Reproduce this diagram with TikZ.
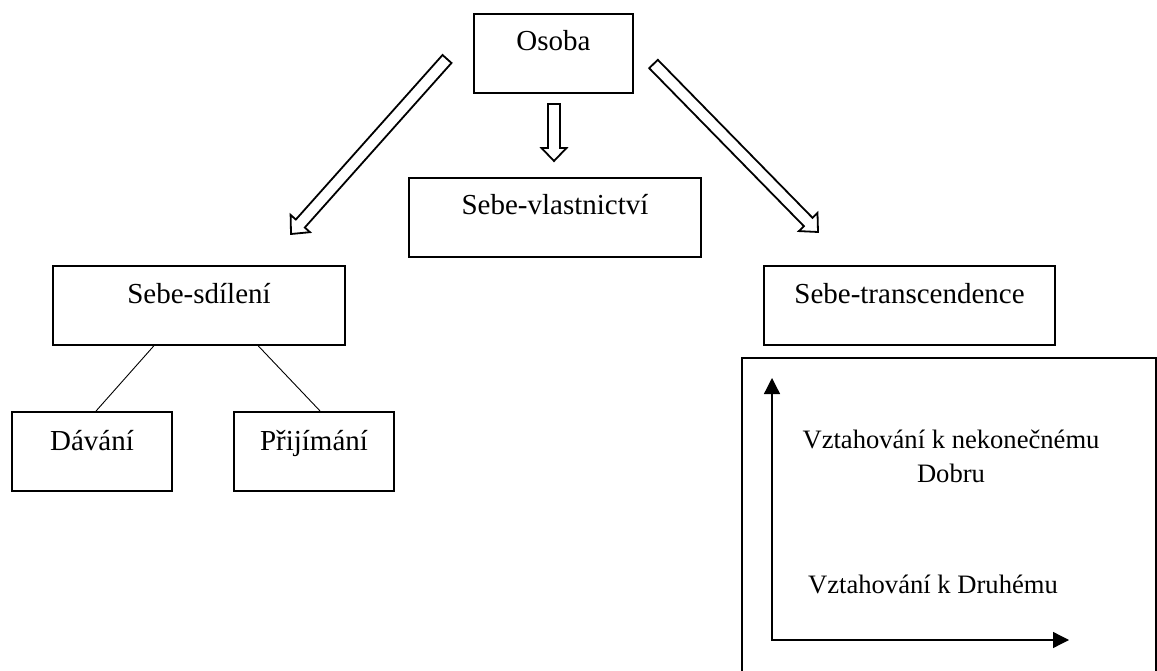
\documentclass[tikz,border=0pt]{standalone}
\usepackage{fontspec}
\setmainfont{Liberation Serif}
\usetikzlibrary{calc,arrows.meta}
\newcommand\bigfont{\fontsize{29pt}{34pt}\selectfont}
\newcommand\framefont{\fontsize{26.6pt}{34pt}\selectfont}
\begin{document}
\begin{tikzpicture}[x=1pt,y=-1pt,
  box/.style={draw, line width=2pt, inner sep=0pt, anchor=north west,
    text height=37pt, text depth=42pt, font=\bigfont},
  plain/.style={inner sep=0pt, font=\framefont, anchor=base},
  blockarr/.style={draw, line width=1.8pt, line join=miter, fill=white},
  thin/.style={line width=0.9pt},
  axis/.style={line width=1.3pt, {Triangle[length=16pt,width=16pt]}-{Triangle[length=16pt,width=16pt]}}
]
\useasboundingbox (0,0) rectangle (1157,671);

% boxes
\node[box, minimum width=159pt] (os) at (473,13) {Osoba};
\node[box, minimum width=292pt] (sv) at (408,177) {Sebe-vlastnictví};
\node[box, minimum width=292pt] (ss) at (52,265) {Sebe-sdílení};
\node[box, minimum width=291pt] (st) at (763,265) {Sebe-transcendence};
\node[box, minimum width=160pt, text height=38pt, text depth=41pt] (da) at (11,411) {Dávání};
\node[box, minimum width=160pt, text height=38pt, text depth=41pt] (pr) at (233,411) {Přijímání};

% big frame (cut by page edge)
\draw[line width=2pt] (742,700) -- (742,358) -- (1156,358) -- (1156,700);

% thin connectors
\draw[thin] ($(ss.south west)!0.346!(ss.south east)$) -- ($(da.north west)!0.525!(da.north east)$);
\draw[thin] ($(ss.south west)!0.702!(ss.south east)$) -- ($(pr.north west)!0.5375!(pr.north east)$);

% block arrows
\newcommand\blockarrow[5]{% tail, tip, shaft half, head half, head length
  \coordinate (#1#2h) at ($(#2)!#5!(#1)$);
  \path[blockarr] ($(#1)!#3!90:(#2)$) -- ($(#1#2h)!#3!-90:(#1)$)
    -- ($(#1#2h)!#4!-90:(#1)$) -- (#2) -- ($(#1#2h)!#4!90:(#1)$)
    -- ($(#1#2h)!#3!90:(#1)$) -- ($(#1)!#3!-90:(#2)$) -- cycle;}
\coordinate (lt) at (447,59);   \coordinate (lh) at (291,234);
\coordinate (rt) at (653.5,64); \coordinate (rh) at (818,232);
\coordinate (mt) at (554,104);  \coordinate (mh) at (554,161);
\blockarrow{lt}{lh}{6pt}{13pt}{14pt}
\blockarrow{rt}{rh}{6pt}{13pt}{14pt}
\blockarrow{mt}{mh}{6pt}{12.5pt}{13pt}

% axes
\coordinate (ax0) at (772,640);
\coordinate (axv) at (772,378);
\coordinate (axh) at (1069,640);
\draw[axis] (axv) -- (ax0) -- (axh);

% texts in frame
\node[plain, align=center] (t1) at (951,482) {Vztahování k nekonečnému\\Dobru};
\node[plain] (t2) at (933,593) {Vztahování k Druhému};
\end{tikzpicture}
\end{document}
